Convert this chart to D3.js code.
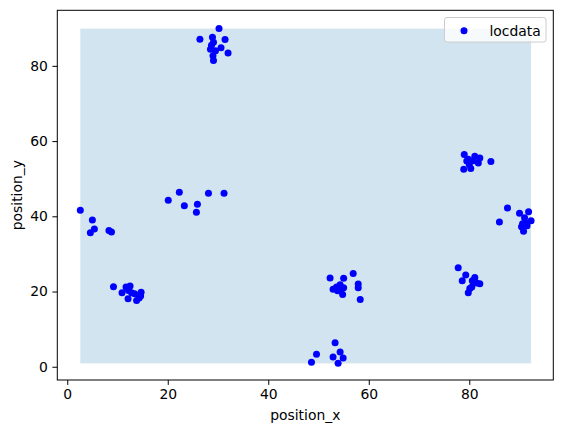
<!DOCTYPE html>
<html>
<head>
<meta charset="utf-8">
<script src="https://cdn.jsdelivr.net/npm/d3@7"></script>
<style>
  body { margin: 0; background: #fff; }
  text { font-family: "DejaVu Sans", sans-serif; }
</style>
</head>
<body>
<svg id="chart" width="563" height="433"></svg>
<script>
// point data, one array per cluster
var clusterTop = [[30.2,89.9],[26.4,87.1],[28.9,87.6],[31.4,87.0],[28.7,85.5],[29.1,86.3],[28.5,84.4],[30.6,84.8],[29.5,84.0],[32.0,83.4],[29.0,82.7],[29.1,81.4]];
var clusterMid = [[22.3,46.4],[28.1,46.1],[31.2,46.1],[20.1,44.3],[23.3,42.8],[25.9,43.2],[25.7,41.1]];
var clusterLeft = [[2.6,41.6],[5.0,39.0],[5.4,36.6],[4.6,35.6],[8.3,36.2],[8.8,35.8]];
var clusterLowLeft = [[9.2,21.3],[10.9,19.7],[11.7,21.2],[12.5,21.5],[12.2,20.3],[12.8,19.7],[12.1,18.1],[13.4,19.4],[13.8,17.6],[14.3,18.3],[14.7,19.8],[14.6,18.8],[12.0,20.8]];
var clusterCenter = [[52.3,23.6],[55.0,23.5],[56.9,24.8],[57.9,22.0],[57.9,21.0],[58.3,17.9],[52.9,20.6],[53.6,21.2],[54.3,21.8],[54.6,20.7],[54.8,19.2],[53.8,20.2],[55.0,21.0]];
var clusterBottom = [[53.3,6.4],[54.3,3.9],[49.6,3.3],[48.6,1.2],[52.9,2.6],[54.9,2.3],[53.9,0.9]];
var clusterUpRight = [[79.0,56.4],[81.1,56.0],[82.1,55.5],[84.3,54.6],[81.8,54.2],[79.5,54.7],[80.0,53.8],[80.3,52.7],[78.9,52.5],[79.8,55.2],[80.8,54.8]];
var clusterRight = [[87.6,42.2],[86.0,38.5],[90.0,40.8],[91.8,41.2],[92.3,38.8],[91.3,38.2],[90.6,38.0],[90.4,37.2],[90.8,36.0],[91.5,37.5],[91.0,39.6]];
var clusterLowRight = [[77.8,26.3],[79.3,24.4],[78.6,22.9],[81.1,23.7],[80.6,22.9],[82.1,22.1],[81.5,22.3],[80.5,21.2],[79.8,19.7],[80.1,20.8]];

var xTicks = [0, 20, 40, 60, 80];
var yTicks = [0, 20, 40, 60, 80];
var seriesName = 'locdata';

var points = [].concat(clusterTop, clusterMid, clusterLeft, clusterLowLeft,
    clusterCenter, clusterBottom, clusterUpRight, clusterRight, clusterLowRight);

var svg = d3.select('#chart');
var plotLeft = 57.3, plotRight = 553.3, plotTop = 10.3, plotBottom = 380;

var x = d3.scaleLinear().domain([-1.98, 96.72]).range([plotLeft, plotRight]);
var y = d3.scaleLinear().domain([-3.52, 94.77]).range([plotBottom, plotTop]);

// shaded box spanning the data extent
var xExt = d3.extent(points, function(d) { return d[0]; });
var yExt = d3.extent(points, function(d) { return d[1]; });
svg.append('rect')
    .attr('x', x(xExt[0]))
    .attr('y', y(yExt[1]))
    .attr('width', x(xExt[1]) - x(xExt[0]))
    .attr('height', y(yExt[0]) - y(yExt[1]))
    .attr('fill', '#1f77b4')
    .attr('fill-opacity', 0.2);

svg.append('g').selectAll('circle')
    .data(points)
    .enter().append('circle')
    .attr('cx', function(d) { return x(d[0]); })
    .attr('cy', function(d) { return y(d[1]); })
    .attr('r', 3.5)
    .attr('fill', '#0000ff');

// spines
svg.append('rect')
    .attr('x', plotLeft).attr('y', plotTop)
    .attr('width', plotRight - plotLeft).attr('height', plotBottom - plotTop)
    .attr('fill', 'none').attr('stroke', '#000').attr('stroke-width', 1);

var xAxis = svg.append('g')
    .attr('transform', 'translate(0,' + plotBottom + ')')
    .call(d3.axisBottom(x).tickValues(xTicks).tickSize(4.9).tickPadding(4.5));
var yAxis = svg.append('g')
    .attr('transform', 'translate(' + plotLeft + ',0)')
    .call(d3.axisLeft(y).tickValues(yTicks).tickSize(4.9).tickPadding(4.5));
[xAxis, yAxis].forEach(function(a) {
    a.attr('font-size', 13.9).attr('font-family', '"DejaVu Sans", sans-serif');
    a.select('.domain').remove();
    a.selectAll('text').attr('fill', '#000');
    a.selectAll('line').attr('stroke', '#000');
});

svg.append('text')
    .attr('x', (plotLeft + plotRight) / 2).attr('y', 420)
    .attr('text-anchor', 'middle').attr('font-size', 13.9)
    .text('position_x');
svg.append('text')
    .attr('transform', 'translate(22,' + (plotTop + plotBottom) / 2 + ') rotate(-90)')
    .attr('text-anchor', 'middle').attr('font-size', 13.9)
    .text('position_y');

// legend
var lg = svg.append('g');
lg.append('rect')
    .attr('x', 444.5).attr('y', 17.5).attr('width', 101.5).attr('height', 24.5)
    .attr('rx', 2.5).attr('fill', '#fff').attr('fill-opacity', 0.8)
    .attr('stroke', '#ccc').attr('stroke-width', 1);
lg.append('circle').attr('cx', 464).attr('cy', 30.7).attr('r', 3.5).attr('fill', '#0000ff');
lg.append('text').attr('x', 489.5).attr('y', 35.5).attr('font-size', 13.9).text(seriesName);
</script>
</body>
</html>
